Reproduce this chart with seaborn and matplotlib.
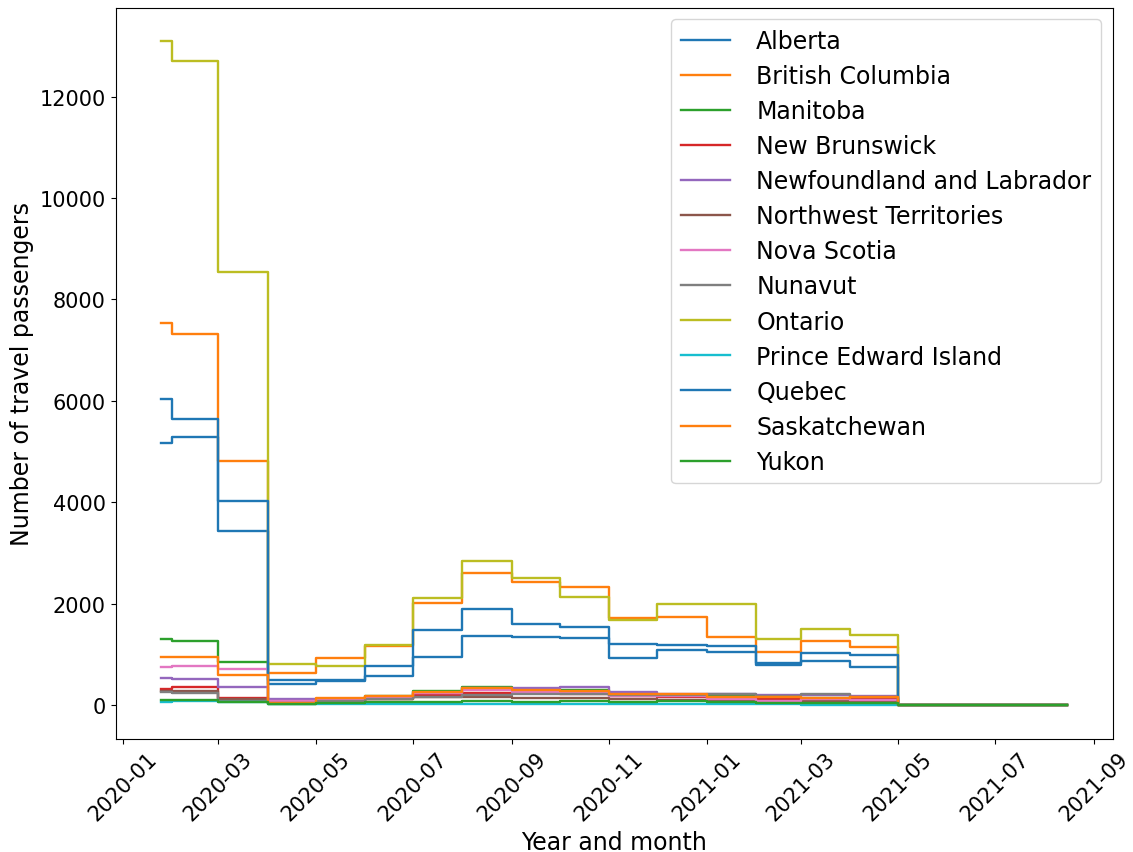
import matplotlib
matplotlib.use("Agg")
import matplotlib.pyplot as plt
import matplotlib.dates as mdates
import numpy as np
import pandas as pd
import seaborn as sns

# Monthly passenger counts per province; the first value covers the partial
# month starting 2020-01-25, the series drops to zero from 2021-05.
month_starts = ["2020-01-25", "2020-02-01", "2020-03-01", "2020-04-01", "2020-05-01",
                "2020-06-01", "2020-07-01", "2020-08-01", "2020-09-01", "2020-10-01",
                "2020-11-01", "2020-12-01", "2021-01-01", "2021-02-01", "2021-03-01",
                "2021-04-01", "2021-05-01", "2021-08-15"]

provinces = ["Alberta", "British Columbia", "Manitoba", "New Brunswick",
             "Newfoundland and Labrador", "Northwest Territories", "Nova Scotia",
             "Nunavut", "Ontario", "Prince Edward Island", "Quebec",
             "Saskatchewan", "Yukon"]

alberta = [5175, 5285, 3440, 425, 474, 573, 955, 1364, 1351, 1318, 936, 1081, 1054, 791, 870, 751, 0, 0]
british_columbia = [7530, 7315, 4820, 640, 935, 1160, 2025, 2600, 2425, 2335, 1715, 1740, 1345, 1060, 1265, 1150, 0, 0]
manitoba = [1310, 1270, 860, 30, 50, 180, 290, 360, 330, 300, 230, 200, 180, 140, 150, 140, 0, 0]
new_brunswick = [323, 362, 140, 60, 80, 130, 200, 250, 250, 230, 190, 170, 150, 120, 130, 120, 0, 0]
newfoundland = [540, 527, 356, 119, 120, 160, 240, 340, 349, 369, 271, 230, 224, 204, 200, 180, 0, 0]
northwest_territories = [290, 277, 132, 50, 60, 120, 172, 158, 138, 140, 120, 110, 100, 90, 95, 90, 0, 0]
nova_scotia = [765, 770, 712, 79, 100, 150, 250, 300, 271, 237, 191, 191, 119, 93, 119, 110, 0, 0]
nunavut = [257, 244, 93, 40, 93, 120, 170, 200, 220, 230, 200, 210, 224, 180, 224, 172, 0, 0]
ontario = [13100, 12700, 8550, 820, 770, 1185, 2110, 2850, 2500, 2135, 1680, 1990, 1990, 1310, 1495, 1385, 0, 0]
prince_edward_island = [73, 80, 61, 20, 20, 25, 30, 30, 26, 26, 26, 26, 26, 20, 15, 15, 0, 0]
quebec = [6035, 5640, 4030, 490, 508, 771, 1476, 1904, 1608, 1542, 1200, 1180, 1160, 830, 1028, 989, 0, 0]
saskatchewan = [950, 960, 590, 40, 138, 185, 260, 350, 300, 280, 224, 224, 172, 158, 138, 160, 0, 0]
yukon = [105, 105, 59, 26, 53, 70, 73, 80, 73, 80, 73, 93, 60, 40, 40, 40, 0, 0]

series = [alberta, british_columbia, manitoba, new_brunswick, newfoundland,
          northwest_territories, nova_scotia, nunavut, ontario,
          prince_edward_island, quebec, saskatchewan, yukon]

dates = pd.to_datetime(month_starts)
df = pd.concat(
    [pd.DataFrame({"date": dates, "province": name, "passengers": vals})
     for name, vals in zip(provinces, series)],
    ignore_index=True,
)

fig, ax = plt.subplots(figsize=(11.33, 8.53), dpi=100)
fig.subplots_adjust(left=0.102, right=0.982, top=0.99, bottom=0.133)

palette = sns.color_palette("tab10", len(provinces))
sns.lineplot(data=df, x="date", y="passengers", hue="province",
             hue_order=provinces, palette=palette, drawstyle="steps-post",
             errorbar=None, linewidth=1.7, ax=ax)

ax.xaxis.set_major_locator(mdates.MonthLocator(bymonth=[1, 3, 5, 7, 9, 11]))
ax.xaxis.set_major_formatter(mdates.DateFormatter("%Y-%m"))
ax.tick_params(axis="both", labelsize=15)
plt.setp(ax.get_xticklabels(), rotation=45)

ax.set_xlabel("Year and month", fontsize=17)
ax.set_ylabel("Number of travel passengers", fontsize=17)

ax.legend(loc="upper right", fontsize=17, handlelength=2.1, handletextpad=1.1,
          labelspacing=0.47)

fig.savefig("out.png", dpi=100)
